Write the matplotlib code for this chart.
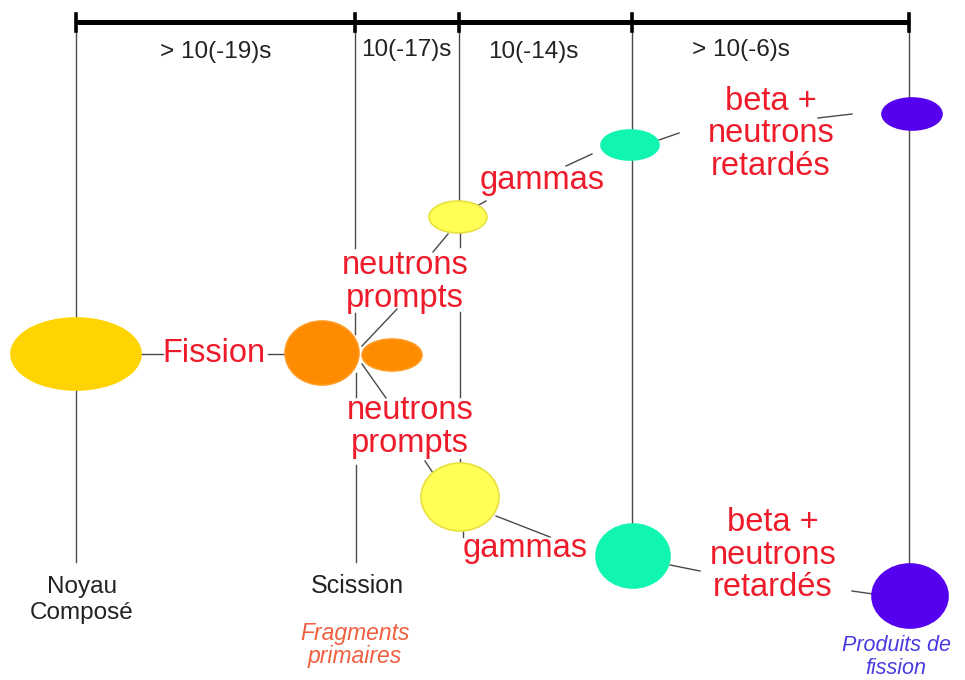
import matplotlib
matplotlib.use("Agg")
import matplotlib.pyplot as plt
from matplotlib.patches import Ellipse

plt.rcParams['font.family'] = ['Liberation Sans', 'DejaVu Sans']

# ---- timeline ----
stage_x = [76, 355, 459, 632, 909]
period_labels = ["> 10(-19)s", "10(-17)s", "10(-14)s", "> 10(-6)s"]
period_x = [216, 406, 533, 741]
period_y = [52, 50, 52, 50]

# ---- noyaux (centre x, centre y, largeur, hauteur, couleur) ----
node_x = [76, 322, 392, 458, 460, 630, 633, 912, 910]
node_y = [354, 353, 355, 217, 497, 145, 556, 114, 596]
node_w = [130, 74, 60, 58, 78, 58, 74, 60, 76]
node_h = [72, 64, 32, 32, 68, 30, 64, 32, 64]
node_col = ["#FFD400", "#FF8C00", "#FF8C00", "#FFFF55", "#FFFF55",
            "#10F5B0", "#10F5B0", "#5500EE", "#5500EE"]
node_edge = ["#FFD400", "#FF9A20", "#FF9A20", "#E8E040", "#E8E040",
             "#10F5B0", "#10F5B0", "#5500EE", "#5500EE"]

# ---- textes rouges ----
red_txt = ["Fission", "neutrons\nprompts", "neutrons\nprompts", "gammas", "gammas",
           "beta +\nneutrons\nretardés", "beta +\nneutrons\nretardés"]
red_x = [214, 405, 410, 542, 525, 771, 773]
red_y = [354, 282, 427, 181, 548, 134, 555]

# ---- segments verticaux des étapes (x, y0, y1) ----
vsegs = [(76, 22, 318), (76, 390, 562),
         (355, 22, 248), (355, 313, 334), (356, 373, 397), (356, 465, 562),
         (459, 22, 201), (460, 233, 247), (460, 312, 397), (460, 459, 463), (463, 531, 537),
         (632, 22, 130), (632, 160, 525),
         (909, 22, 98), (909, 130, 566)]

# ---- liaisons obliques ----
links = [((141, 354), (163, 354)), ((268, 354), (286, 354)),
         ((362, 346), (397, 309)), ((362, 364), (386, 398)),
         ((433, 252), (448, 234)), ((475, 207), (486, 201)),
         ((566, 166), (592, 154)), ((659, 140), (679, 133)),
         ((818, 118), (852, 114)),
         ((425, 461), (433, 473)), ((496, 516), (550, 537)),
         ((670, 565), (700, 571)), ((852, 591), (873, 594))]

fig = plt.figure(figsize=(9.65, 6.8), dpi=100)
ax = fig.add_axes([0, 0, 1, 1])
ax.set_xlim(0, 965)
ax.set_ylim(680, 0)
ax.axis("off")

# barre du temps
ax.plot([stage_x[0], stage_x[-1]], [22, 22], color="black", lw=3.6, solid_capstyle="butt", zorder=3)
for x in stage_x:
    ax.plot([x, x], [14, 31], color="black", lw=2.6, zorder=3)

for x, y0, y1 in vsegs:
    ax.plot([x, x], [y0, y1], color="#4a4a4a", lw=1.0, zorder=1)

for (x0, y0), (x1, y1) in links:
    ax.plot([x0, x1], [y0, y1], color="#4a4a4a", lw=1.0, zorder=1)

for x, y, w, h, c, e in zip(node_x, node_y, node_w, node_h, node_col, node_edge):
    ax.add_patch(Ellipse((x, y), w, h, facecolor=c, edgecolor=e, lw=1.2, zorder=2))

for lab, x, y in zip(period_labels, period_x, period_y):
    ax.text(x, y, lab, fontsize=17.5, color="#222222", ha="center", va="center")

for t, x, y in zip(red_txt, red_x, red_y):
    ax.text(x, y, t, fontsize=23.5, color="#EE1C2A", ha="center", va="center",
            linespacing=1.05, zorder=4)

ax.text(82, 600, "Noyau\nComposé", fontsize=17.5, color="#222222", ha="center", va="center",
        linespacing=1.25)
ax.text(357, 586, "Scission", fontsize=18, color="#222222", ha="center", va="center")
ax.text(355, 645, "Fragments\nprimaires", fontsize=16.5, color="#F06040", style="italic",
        ha="center", va="center", linespacing=1.05)
ax.text(896, 657, "Produits de\nfission", fontsize=15.5, color="#4A3BE0", style="italic",
        ha="center", va="center", linespacing=1.15)

fig.savefig("out.png", dpi=100)
